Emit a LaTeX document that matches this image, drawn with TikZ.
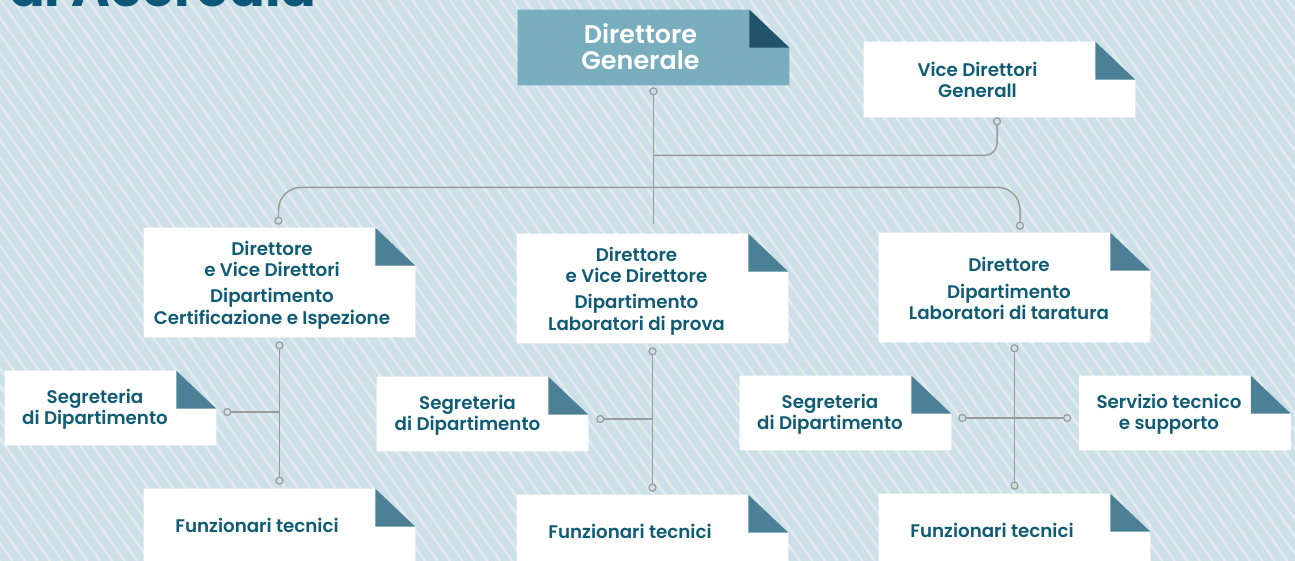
\documentclass[tikz,border=0pt]{standalone}
\usepackage{fontspec}
\setmainfont{Poppins}[UprightFont=* SemiBold, BoldFont=* Bold]
\usetikzlibrary{calc}
\definecolor{sky}{RGB}{206,224,231}
\definecolor{streak}{RGB}{225,236,241}
\definecolor{ink}{RGB}{17,92,117}
\definecolor{fold}{RGB}{75,128,151}
\definecolor{deep}{RGB}{33,83,109}
\definecolor{chief}{RGB}{108,166,183}
\definecolor{wirec}{RGB}{155,155,155}
\definecolor{headc}{RGB}{13,88,120}
\pgfdeclarelayer{back}
\pgfdeclarelayer{paper}
\pgfsetlayers{back,paper,main}
\tikzset{
  boxL/.style={inner sep=0, minimum width=5.42cm, minimum height=2.18cm},
  boxM/.style={inner sep=0, minimum width=5.42cm, minimum height=1.5cm},
  boxS/.style={inner sep=0, minimum width=4.22cm, minimum height=1.48cm},
  lbl/.style={text=ink, align=center, font=\fontsize{10.4}{12}\selectfont},
  big/.style={text=white, align=center, font=\fontsize{14.5}{15}\selectfont},
  wire/.style={draw=wirec, line width=0.85pt},
  port/.style={draw=wirec, fill=sky, line width=0.7pt},
  streakline/.style={draw=streak, line width=0.05cm}
}
% folded paper sheet behind a box node
\newcommand\paperbox[3]{%
  \fill[#2] (#1.south west) -- (#1.north west) -- ($(#1.north east)+(-40,0)$)
    -- ($(#1.north east)+(0,38)$) -- (#1.south east) -- cycle;
  \fill[#3] ($(#1.north east)+(-40,0)$) -- ($(#1.north east)+(-40,38)$)
    -- ($(#1.north east)+(0,38)$) -- cycle;
}
\begin{document}
\begin{tikzpicture}[x=0.02cm, y=-0.02cm]
\useasboundingbox (0,0) rectangle (1295,561);
\begin{pgfonlayer}{back}
\fill[sky] (0,0) rectangle (1295,561);
\foreach \i in {-34,...,104} \draw[streakline] (\i*12.5,0) -- ++(400,561);
\end{pgfonlayer}

\node[text=headc, anchor=base west, font=\fontsize{30}{30}\selectfont\bfseries] (head) at (3,7) {di Accredia};

% boxes
\node[boxM] (dg) at (653.5,47.5) {};
\node[boxM] (vdg) at (999.5,79.5) {};
\node[boxL] (dcert) at (279.5,282.5) {};
\node[boxL] (dlab) at (652.5,288.5) {};
\node[boxL] (dtar) at (1014.5,287.5) {};
\node[boxS] (segc) at (110.5,408) {};
\node[boxS] (segl) at (482.5,414) {};
\node[boxS] (segt) at (845.5,413) {};
\node[boxS] (serv) at (1185,413) {};
\node[boxM] (func) at (279.5,526.5) {};
\node[boxM] (funl) at (652.5,532.5) {};
\node[boxM] (funt) at (1014.5,531.5) {};

\begin{pgfonlayer}{paper}
\paperbox{dg}{chief, fill opacity=0.88}{deep}
\foreach \b in {vdg,dcert,dlab,dtar,segc,segl,segt,serv,func,funl,funt}
  {\paperbox{\b}{white}{fold}}
\end{pgfonlayer}

% texts
\node[big] (dgt) at ($(dg)+(-13,-1)$) {Direttore\\Generale};
\node[lbl] (vdgt) at ($(vdg)+(-22,0)$) {Vice Direttori\\Generall};
\node[lbl] (dcertt) at ($(dcert)+(-7.5,2.5)$) {Direttore\\e Vice Direttori\\[3pt]Dipartimento\\Certificazione e Ispezione};
\node[lbl] (dlabt) at ($(dlab)+(-16,2.5)$) {Direttore\\e Vice Direttore\\[3pt]Dipartimento\\Laboratori di prova};
\node[lbl] (dtart) at ($(dtar)+(-5.5,1)$) {Direttore\\[3pt]Dipartimento\\Laboratori di taratura};
\node[lbl] (segct) at ($(segc)+(-15.5,1)$) {Segreteria\\di Dipartimento};
\node[lbl] (seglt) at ($(segl)+(-15,1)$) {Segreteria\\di Dipartimento};
\node[lbl] (segtt) at ($(segt)+(-15.5,1)$) {Segreteria\\di Dipartimento};
\node[lbl] (servt) at ($(serv)+(-16,1)$) {Servizio tecnico\\e supporto};
\node[lbl] (funct) at ($(func)+(-22.5,-1)$) {Funzionari tecnici};
\node[lbl] (funlt) at ($(funl)+(-22.5,-1)$) {Funzionari tecnici};
\node[lbl] (funtt) at ($(funt)+(-22.5,-1)$) {Funzionari tecnici};

% connectors
\coordinate (dgp) at ($(dg.south)+(0,6)$);
\coordinate (hub) at ($(dg.south)+(0,70)$);
\coordinate (spine) at ($(dg.south)+(0,102)$);
\coordinate (dgend) at ($(dlab.north)+(0,-10)$);
\coordinate (vdgp) at ($(vdg.south)+(-2.5,4)$);
\coordinate (dcertp) at ($(dcert.north)+(-1,-7)$);
\coordinate (dtarp) at ($(dtar.north)+(5.5,-7)$);
\coordinate (dcerts) at ($(dcert.south)+(0,8)$);
\coordinate (funcn) at ($(func.north)+(0,-8)$);
\coordinate (segcp) at ($(segc.east)+(11,4)$);
\coordinate (dlabs) at ($(dlab.south)+(0,8)$);
\coordinate (funln) at ($(funl.north)+(0,-7)$);
\coordinate (seglp) at ($(segl.east)+(12,5)$);
\coordinate (dtars) at ($(dtar.south)+(0,6)$);
\coordinate (funtn) at ($(funt.north)+(0,-8)$);
\coordinate (segtp) at ($(segt.east)+(11,5)$);
\coordinate (servp) at ($(serv.west)+(-12,5)$);

\draw[wire] (dgp) -- (dgp |- dgend);
\draw[wire, rounded corners=0.24cm] (vdgp) |- (hub);
\draw[wire, rounded corners=0.45cm] (dcertp) |- (spine) -| (dtarp);
\draw[wire] (dcerts) -- (funcn);
\draw[wire] (segcp) -- (segcp -| dcerts);
\draw[wire] (dlabs) -- (funln);
\draw[wire] (seglp) -- (seglp -| dlabs);
\draw[wire] (dtars) -- (funtn);
\draw[wire] (segtp) -- (servp);
\foreach \p in {dgp,vdgp,dcertp,dtarp,dcerts,funcn,segcp,dlabs,funln,seglp,dtars,funtn,segtp,servp}
  \draw[port] (\p) circle (3.5);
\end{tikzpicture}
\end{document}
